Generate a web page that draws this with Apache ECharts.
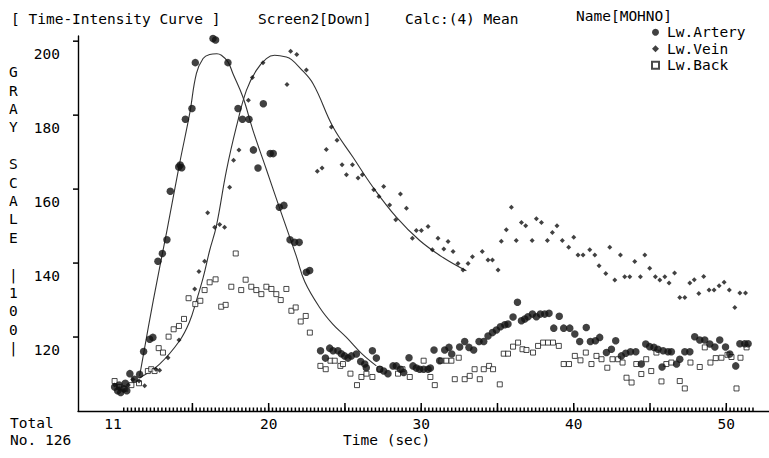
<!DOCTYPE html>
<html>
<head>
<meta charset="utf-8">
<script src="https://cdn.jsdelivr.net/npm/echarts@6/dist/echarts.min.js"></script>
<style>
    html, body { margin: 0; padding: 0; background: #fff; }
    #chart { width: 769px; height: 458px; }
</style>
</head>
<body>
<div id="chart"></div>
<script>
// sample points [time (sec), gray scale]
var arteryPoints = [
    [9.9, 106.5], [10.1, 105.5], [10.2, 107], [10.3, 105], [10.5, 106], [10.6, 107.5], [10.7, 105.5],
    [10.9, 110.1], [11.2, 108.6], [11.54, 109.9], [11.8, 116.1], [12.2, 119.4], [12.41, 119.9],
    [12.74, 140.5], [13.03, 142.6], [13.33, 146.3], [13.55, 159.4], [14.1, 166], [14.2, 166.5],
    [14.3, 165.8], [14.54, 178.9], [14.97, 181.8], [15.19, 194.2], [16.35, 200.7], [16.52, 200.3],
    [17.33, 194.2], [17.99, 181.8], [18.28, 178.9], [18.71, 178.9], [19.0, 170.6], [19.3, 165.7],
    [19.65, 183.1], [20.1, 169.6], [20.3, 169.6], [20.7, 155.1], [21.0, 155.6], [21.4, 146.3],
    [21.7, 145.6], [22.0, 145.6], [22.47, 137.5], [22.69, 138], [23.4, 116.3], [23.72, 114.3],
    [24.0, 117], [24.22, 116.3], [24.54, 116.3], [24.76, 115.5], [24.98, 114.9], [25.2, 114.3],
    [25.42, 114.9], [25.75, 115.4], [26.03, 113.4], [26.3, 112.7], [26.4, 111.7], [26.8, 116.3],
    [27.06, 114.3], [27.28, 111.3], [27.54, 110.8], [27.82, 110.1], [28.15, 112.2], [28.37, 112.2],
    [28.64, 111.3], [28.85, 110.4], [29.2, 114.4], [29.46, 112.2], [29.68, 111.6], [29.9, 111.3],
    [30.16, 111.3], [30.45, 111.3], [30.6, 111.6], [30.84, 116.5], [31.21, 113.6], [31.54, 116.5],
    [31.82, 117.2], [32.0, 115.4], [32.52, 117.3], [32.85, 118.8], [33.13, 117.2], [33.44, 116.5],
    [33.79, 118.8], [34.1, 118.8], [34.38, 120.3], [34.67, 121.2], [34.93, 121.9], [35.19, 122.8],
    [35.48, 123.3], [35.69, 123.5], [36.02, 125.4], [36.31, 129.4], [36.57, 124.4], [36.79, 124.9],
    [37.0, 125.5], [37.29, 126.2], [37.55, 125.5], [37.81, 126.2], [38.1, 126.2], [38.38, 126.4],
    [38.69, 122.4], [39.05, 125.6], [39.34, 122.4], [39.74, 122.4], [40.07, 120.8], [40.39, 118.8],
    [40.82, 122.6], [41.09, 118.8], [41.42, 119], [41.7, 119.9], [42.14, 115.8], [42.47, 116.7],
    [42.75, 119], [43.12, 114.9], [43.41, 115.6], [43.72, 116], [44.07, 116], [44.43, 112.7],
    [44.72, 118.1], [44.98, 117.4], [45.26, 117.2], [45.52, 116.7], [45.79, 111.9], [45.86, 116.3],
    [46.18, 116], [46.4, 116], [46.74, 112.7], [46.95, 114], [47.28, 116], [47.61, 116],
    [47.93, 120.1], [48.26, 119.2], [48.59, 119.2], [48.92, 118.1], [49.25, 117.3], [49.57, 119.2],
    [49.95, 117.3], [50.23, 115.4], [50.62, 112.2], [50.89, 118.2], [51.21, 118.2], [51.43, 118.2]
];
var veinPoints = [
    [9.9, 107], [10.2, 106], [10.5, 105.5], [10.8, 107], [11.1, 108.5], [11.5, 108.1], [11.87, 106.8],
    [12.6, 111.3], [12.85, 111], [13.4, 114.4], [14.12, 119.2], [15.15, 133], [15.43, 137.7],
    [15.8, 140.5], [16.0, 153.6], [16.46, 149.7], [16.79, 150.4], [17.11, 149.7], [17.44, 160.5],
    [17.7, 167.8], [18.05, 170.6], [18.67, 184], [18.93, 190.2], [19.63, 194.2], [21.2, 188.3],
    [21.44, 197.3], [21.84, 196.4], [22.47, 192.2], [23.19, 164.8], [23.5, 165.7], [23.78, 170.7],
    [24.11, 176.8], [24.48, 173.2], [24.81, 166.6], [25.1, 163.9], [25.49, 166.6], [25.86, 163],
    [26.14, 163.9], [26.89, 159.8], [27.23, 158], [27.54, 160.7], [27.93, 155.7], [28.33, 151.7],
    [28.64, 158.7], [29.03, 154.8], [29.42, 146.7], [29.68, 148.8], [30.01, 148.8], [30.45, 149.9],
    [30.73, 143.6], [31.1, 146.7], [31.48, 143.8], [31.76, 145.8], [32.09, 143.1], [32.41, 139.9],
    [32.74, 138.1], [33.07, 139.9], [33.36, 141.7], [34.0, 143.1], [34.38, 140.8], [34.67, 140.8],
    [35.04, 138.1], [35.25, 145.9], [35.58, 149], [35.91, 155.1], [36.23, 146.1], [36.57, 151],
    [36.85, 150.1], [37.27, 146.1], [37.55, 152], [37.88, 151], [38.27, 146.1], [38.6, 148.3],
    [38.9, 150.1], [39.25, 146.1], [39.67, 144.3], [40.0, 147], [40.28, 142.2], [40.61, 142.2],
    [41.05, 143.6], [41.38, 142.2], [41.66, 139.3], [42.1, 137.2], [42.36, 144.3], [42.69, 135.4],
    [43.06, 142.2], [43.34, 136.3], [43.67, 136.3], [44.0, 140.4], [44.37, 136.3], [44.66, 142.2],
    [44.98, 138.6], [45.35, 136.3], [45.64, 135.4], [45.97, 136.3], [46.25, 134.6], [46.61, 137.3],
    [46.95, 130.7], [47.28, 130.7], [47.61, 134.6], [47.9, 135.5], [48.2, 131.8], [48.52, 136.4],
    [48.87, 132.7], [49.2, 132.7], [49.53, 133.9], [49.86, 134.8], [50.2, 132.7], [50.56, 128],
    [50.89, 131.9], [51.26, 131.9]
];
var backPoints = [
    [9.9, 108.1], [10.2, 106.5], [10.6, 106], [11.0, 107], [11.5, 107.5], [12.08, 110.8], [12.3, 111.3],
    [12.52, 110.8], [12.79, 117], [13.07, 115.8], [13.44, 120.1], [13.77, 122.1], [14.12, 123],
    [14.45, 124.9], [14.75, 130.5], [15.19, 128.9], [15.52, 129.8], [15.8, 132.7], [16.13, 134.8],
    [16.52, 135.6], [16.89, 128.2], [17.18, 128.7], [17.55, 133.6], [17.84, 142.6], [18.2, 132.7],
    [18.49, 135.5], [18.86, 133.6], [19.19, 132.7], [19.52, 131.6], [19.85, 133.6], [20.18, 133],
    [20.5, 131.6], [20.79, 130], [21.16, 133], [21.49, 127.1], [21.77, 128], [22.1, 124.2],
    [22.43, 125.7], [22.7, 121.2], [23.39, 112.2], [23.74, 111.3], [24.05, 113.6], [24.33, 113.6],
    [24.7, 112.2], [24.87, 112.7], [25.36, 110.1], [25.79, 107], [26.08, 109.2], [26.41, 110.1],
    [26.8, 109.2], [27.28, 111.3], [28.48, 110.1], [28.77, 111.3], [29.25, 109.2], [30.16, 113.6],
    [30.6, 109.2], [30.89, 107], [31.32, 113.6], [31.65, 113.6], [31.98, 113.6], [32.2, 108.6],
    [32.46, 114.4], [32.85, 108.6], [33.18, 109.5], [33.5, 111.3], [33.84, 108.6], [34.1, 111.3],
    [34.45, 112.2], [34.71, 111.3], [35.15, 107.2], [35.41, 115.5], [35.69, 115.5], [36.02, 117.4],
    [36.35, 118.5], [36.64, 116.7], [36.9, 116.5], [37.33, 115.8], [37.66, 117.6], [37.99, 118.5],
    [38.31, 118.5], [38.64, 118.5], [39.02, 117.6], [39.34, 112.7], [39.69, 112.7], [40.07, 114.9],
    [40.44, 113.7], [40.79, 115.8], [41.16, 112.7], [41.49, 114.9], [41.82, 114], [42.2, 111.7],
    [42.54, 114], [42.91, 114], [43.2, 113.1], [43.46, 109], [43.79, 107.7], [44.1, 112.7],
    [44.43, 110], [44.75, 114], [45.08, 110.8], [45.42, 115.8], [45.75, 108], [46.07, 112.7],
    [46.4, 113.1], [46.95, 108.1], [47.28, 106.1], [47.65, 113.1], [48.26, 111.9], [48.59, 117.2],
    [48.96, 113.1], [49.31, 114.3], [49.68, 114.4], [50.08, 115.2], [50.34, 114.6], [50.67, 106.1],
    [50.93, 114.4], [51.33, 117.2]
];
// fitted curves
var arteryFit = [
    [11.54, 109.5], [12.43, 129.8], [13.33, 148.8], [14.16, 166.9], [14.82, 180.4], [15.26, 191.2],
    [15.7, 195.3], [16.13, 196.4], [16.6, 196.6], [16.9, 196.2], [17.33, 194.4], [17.66, 191.2],
    [18.31, 184.9], [18.97, 175.9], [19.85, 165.3], [20.83, 153.5], [21.8, 142], [22.36, 135],
    [23.34, 128], [24.2, 123.5], [25.1, 119.9], [26.1, 115.5], [27.06, 112.2]
];
var veinFit = [
    [11.54, 109], [12.85, 112.7], [14.16, 119], [14.8, 124], [15.26, 129.8], [15.7, 136],
    [16.13, 143.4], [16.57, 150], [17.23, 165], [17.88, 176.8], [18.54, 186.7], [19.19, 192.1],
    [19.85, 195.3], [20.39, 196.2], [21.16, 195.7], [21.5, 195], [22.0, 193], [22.91, 188.5],
    [24.22, 176.8], [25.53, 168.6], [26.84, 160.5], [28.37, 152.4], [29.9, 146.1], [31.43, 141.5],
    [32.96, 137.9]
];
var seriesNames = ['Lw.Artery', 'Lw.Vein', 'Lw.Back'];
var xTickValues = [9.8, 20, 30, 40, 50];
var xTickLabels = ['11', '20', '30', '40', '50'];
var xMajorTicks = [15, 20, 25, 30, 35, 40, 45, 50];
var yTickValues = [120, 140, 160, 180, 200];

var ink = '#000';
var mono = '"DejaVu Sans Mono", "Liberation Mono", monospace';
var fontSize = 14.5;

var xMin = 7.5, xMax = 52.8, yMin = 100, yMax = 201.4;

// minor comb under the time axis, every 0.25 s
var xMinorTicks = [];
for (var t = 10.5; t <= 51.76; t += 0.25) {
    xMinorTicks.push(Math.round(t * 100) / 100);
}

// short tick strokes drawn through the grid's own scale
function tickSeries(points, dx, dy) {
    return {
        type: 'custom',
        silent: true,
        z: 6,
        clip: false,
        encode: { x: 0, y: 1 },
        data: points,
        renderItem: function (params, api) {
            var p = api.coord([api.value(0), api.value(1)]);
            return {
                type: 'rect',
                shape: {
                    x: Math.min(p[0], p[0] + dx) - (dx === 0 ? 0.75 : 0),
                    y: Math.min(p[1], p[1] + dy) - (dy === 0 ? 0.75 : 0),
                    width: dx === 0 ? 1.5 : Math.abs(dx),
                    height: dy === 0 ? 1.5 : Math.abs(dy)
                },
                style: { fill: ink }
            };
        }
    };
}

function titleText(text, left, top) {
    return {
        text: text, left: left, top: top,
        textStyle: { fontFamily: mono, fontSize: fontSize, fontWeight: 'normal', color: ink }
    };
}

var chart = echarts.init(document.getElementById('chart'), null, { renderer: 'svg' });
var option = {
    backgroundColor: '#fff',
    animation: false,
    title: [
        titleText('[ Time-Intensity Curve ]', 6, 6),
        titleText('Screen2[Down]', 253, 6),
        titleText('Calc:(4) Mean', 400, 6),
        titleText('Name[MOHNO]', 571, 3)
    ],
    legend: {
        data: seriesNames,
        orient: 'vertical',
        left: 646,
        top: 19,
        itemWidth: 7,
        itemHeight: 7,
        itemGap: 0,
        textStyle: { fontFamily: mono, fontSize: fontSize, color: ink, lineHeight: 16.5, padding: [0, 0, 0, 3] }
    },
    grid: { left: 78, right: 0, top: 36, bottom: 47 },
    xAxis: {
        type: 'value',
        min: xMin,
        max: xMax,
        axisLine: { lineStyle: { color: ink, width: 1.4 } },
        axisTick: { show: false },
        axisLabel: {
            customValues: xTickValues,
            margin: 5,
            fontFamily: mono, fontSize: fontSize, color: ink,
            formatter: function (v) {
                var i = xTickValues.indexOf(v);
                return i >= 0 ? xTickLabels[i] : '';
            }
        },
        splitLine: { show: false }
    },
    yAxis: {
        type: 'value',
        min: yMin,
        max: yMax,
        axisLine: { show: true, lineStyle: { color: ink, width: 1.4 } },
        axisTick: { show: false },
        axisLabel: {
            customValues: yTickValues,
            margin: 18,
            verticalAlign: 'top',
            padding: [5, 0, 0, 0],
            fontFamily: mono, fontSize: fontSize, color: ink
        },
        splitLine: { show: false }
    },
    graphic: [
        {
            type: 'text', left: 9, top: 63,
            style: {
                text: 'G\nR\nA\nY\n\nS\nC\nA\nL\nE\n\n|\n1\n0\n0\n|',
                font: fontSize + 'px ' + mono, fill: ink, lineHeight: 18.4, align: 'left'
            }
        },
        { type: 'text', left: 10, top: 415, style: { text: 'Total', font: fontSize + 'px ' + mono, fill: ink } },
        { type: 'text', left: 10, top: 432, style: { text: 'No. 126', font: fontSize + 'px ' + mono, fill: ink } },
        { type: 'text', left: 343, top: 432, style: { text: 'Time (sec)', font: fontSize + 'px ' + mono, fill: ink } }
    ],
    series: [
        tickSeries(xMinorTicks.map(function (v) { return [v, yMin]; }), 0, -3.5),
        tickSeries(xMajorTicks.map(function (v) { return [v, yMin]; }), 0, -8),
        tickSeries(yTickValues.map(function (v) { return [xMin, v]; }), -5, 0),
        {
            name: 'arteryFit', type: 'line', data: arteryFit, smooth: 0.4, symbol: 'none',
            lineStyle: { color: '#333', width: 1.1 }, z: 1
        },
        {
            name: 'veinFit', type: 'line', data: veinFit, smooth: 0.4, symbol: 'none',
            lineStyle: { color: '#333', width: 1.1 }, z: 1
        },
        {
            name: 'Lw.Artery', type: 'scatter', data: arteryPoints, symbol: 'circle', symbolSize: 7.5,
            itemStyle: { color: '#111' }, z: 3
        },
        {
            name: 'Lw.Vein', type: 'scatter', data: veinPoints, symbol: 'diamond', symbolSize: 5,
            itemStyle: { color: '#111' }, z: 3
        },
        {
            name: 'Lw.Back', type: 'scatter', data: backPoints, symbol: 'rect', symbolSize: 5,
            itemStyle: { color: '#fff', borderColor: '#1c1c1c', borderWidth: 1 }, z: 2
        }
    ]
};
chart.setOption(option);
</script>
</body>
</html>
